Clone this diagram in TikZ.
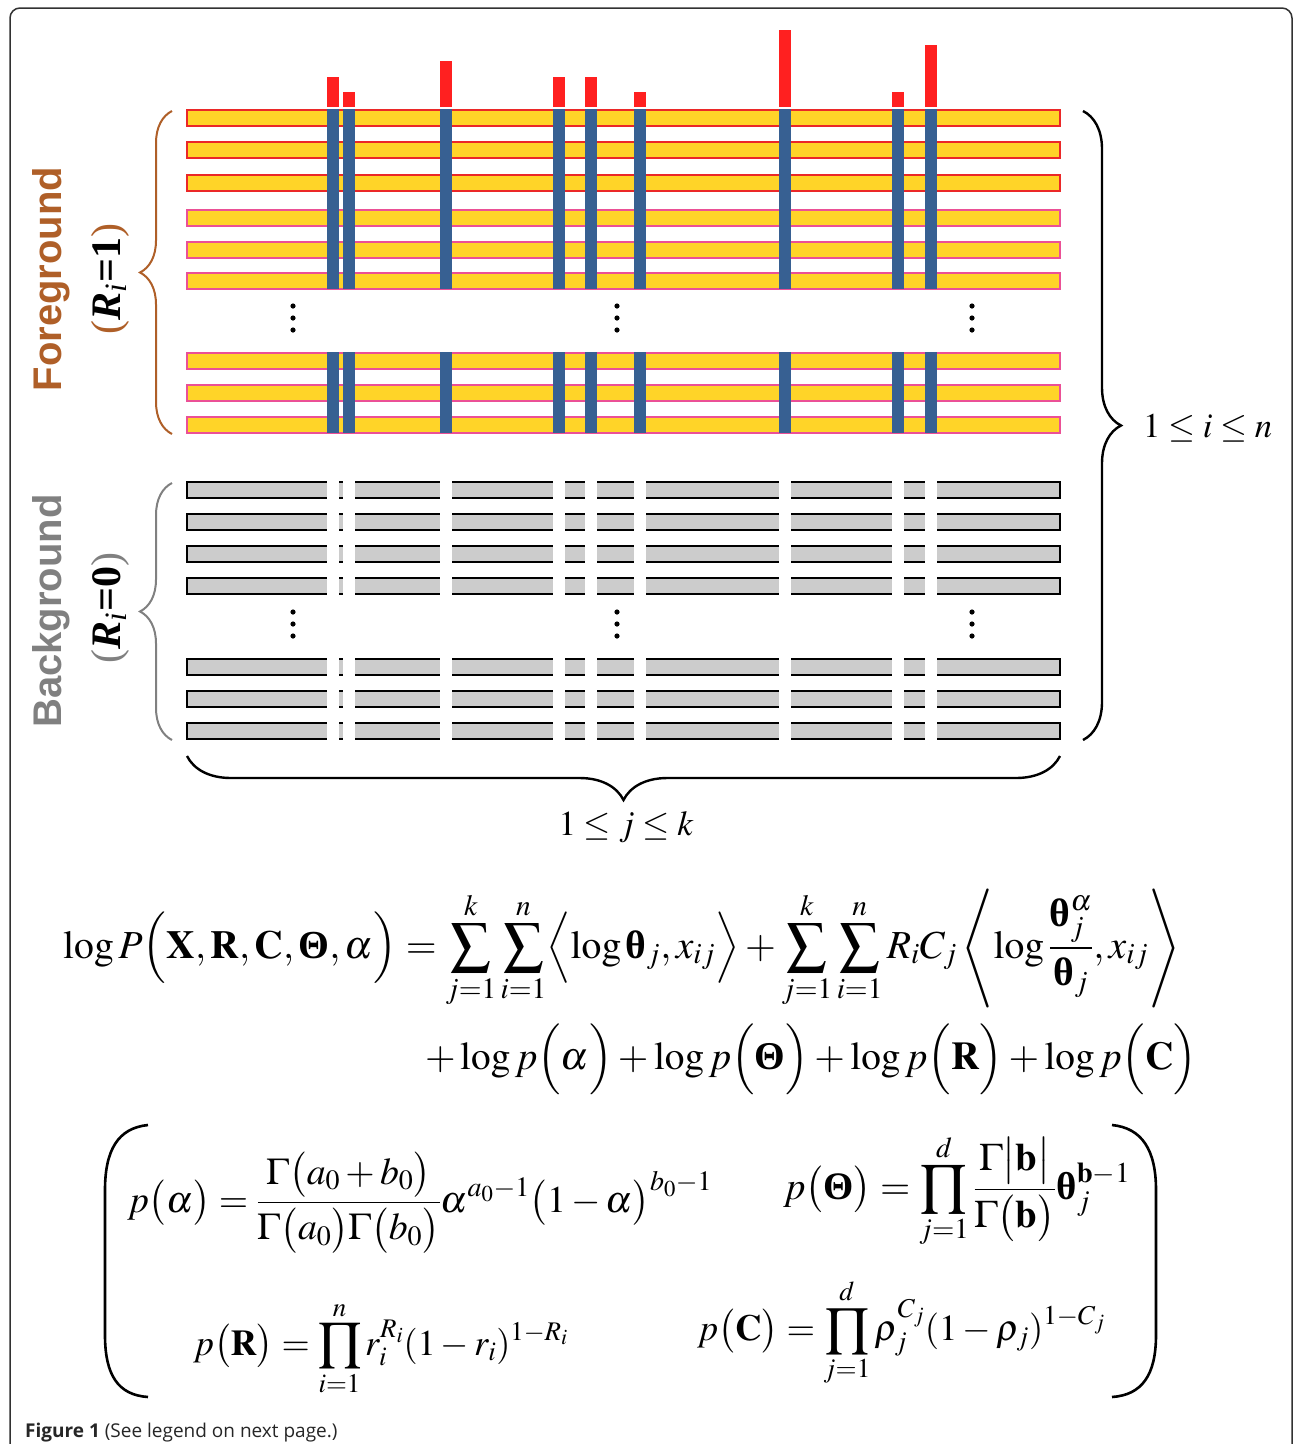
\documentclass[tikz,border=0pt]{standalone}
\usepackage{amsmath}
\usepackage{mathptmx}
\usepackage[no-math]{fontspec}
\setmainfont{Liberation Serif}
\newfontfamily\lsans{Liberation Sans}
\newfontfamily\capsans{Open Sans}
\usepackage{graphicx}
\usetikzlibrary{decorations.pathreplacing}
\newcommand{\bth}{\text{\normalfont\bfseries θ}}
\newcommand{\bTh}{\text{\normalfont\bfseries Θ}}
\definecolor{baryellow}{RGB}{255,212,40}
\definecolor{barred}{RGB}{235,40,40}
\definecolor{barpink}{RGB}{235,80,150}
\definecolor{colblue}{RGB}{55,96,146}
\definecolor{peakred}{RGB}{255,32,32}
\definecolor{bargray}{RGB}{204,204,204}
\definecolor{fgbrown}{RGB}{175,95,40}
\definecolor{bggray}{RGB}{128,128,128}
\definecolor{framegray}{RGB}{50,50,50}
\begin{document}
\begin{tikzpicture}[x=1pt,y=-1pt,
  fgbar/.style={fill=baryellow, line width=1.8pt},
  bgbar/.style={fill=bargray, draw=black, line width=2pt},
  bracestyle/.style={decorate, line width=2pt},
  eq/.style={anchor=base west, inner sep=0pt, font=\fontsize{40}{48}\selectfont},
  peq/.style={anchor=base west, inner sep=0pt, font=\fontsize{36}{44}\selectfont}]
\useasboundingbox (0,0) rectangle (1293,1444);
\fill[white] (0,0) rectangle (1293,1444);
\draw[line width=1.5pt, framegray, rounded corners=10pt] (10,1470) -- (10,8) -- (1292,8) -- (1292,1470);
% foreground bars
\foreach \t in {110,142,175} \draw[fgbar, draw=barred] (187,\t) rectangle (1060,\t+16);
\foreach \t in {210,242,273,353,385,417} \draw[fgbar, draw=barpink] (187,\t) rectangle (1060,\t+16);
\foreach \cx/\h in {327/77,343/92,440/61,553/77,585/77,634/92,779/30,892/92,925/45} {
  \fill[colblue] (\cx,109) rectangle (\cx+12,289);
  \fill[colblue] (\cx,352) rectangle (\cx+12,433);
  \fill[peakred] (\cx,\h) rectangle (\cx+12,107);
}
% background bars
\foreach \t in {482,514,546,578,659,691,723} \draw[bgbar] (187,\t) rectangle (1060,\t+16);
\foreach \cx in {327,343,440,553,585,634,779,892,925} \fill[white] (\cx,477) rectangle (\cx+12,745);
% dots
\foreach \dx in {293,617,972} {
  \foreach \dy in {306,318,330} \fill (\dx,\dy) circle (2.6pt);
  \foreach \dy in {612,624,636} \fill (\dx,\dy) circle (2.6pt);
}
% braces
\draw[bracestyle, fgbrown, decoration={brace, amplitude=32pt}] (172,434) -- (172,111);
\draw[bracestyle, bggray, decoration={brace, amplitude=32pt}] (172,740) -- (172,483);
\draw[bracestyle, black, line width=2.4pt, decoration={brace, amplitude=38pt}] (1083,111) -- (1083,740);
\draw[bracestyle, black, line width=2.4pt, decoration={brace, amplitude=44pt}] (1060,756) -- (187,756);
% side labels
\node[rotate=90, text=fgbrown, font=\lsans\bfseries\fontsize{40}{48}\selectfont] (fg) at (51,279) {Foreground};
\node[rotate=90, font=\fontsize{42}{50}\selectfont] (fgr) at (110,279) {{\color{fgbrown}(}\textbf{\textit{R}}\textsubscript{\textit{i}}\textbf{=1}{\color{fgbrown})}};
\node[rotate=90, text=bggray, font=\lsans\bfseries\fontsize{40}{48}\selectfont] (bg) at (51,611) {Background};
\node[rotate=90, font=\fontsize{42}{50}\selectfont] (bgr) at (110,608) {{\color{bggray}(}\textbf{\textit{R}}\textsubscript{\textit{i}}\textbf{=0}{\color{bggray})}};
\node[anchor=west, inner sep=0pt, font=\fontsize{40}{48}\selectfont] (ilab) at (1143,428) {\resizebox{129pt}{!}{$1\le i\le n$}};
\node[inner sep=0pt, font=\fontsize{40}{48}\selectfont] (jlab) at (626,827) {\resizebox{135pt}{!}{$1\le j\le k$}};
% main equation
\node[eq] (eq1) at (63,958) {\resizebox{1117pt}{!}{$\displaystyle \log P\Bigl(\mathbf{X},\mathbf{R},\mathbf{C},\bTh,\alpha\Bigr)=\sum_{j=1}^{k}\sum_{i=1}^{n}\Bigl\langle\log\bth_{j},x_{ij}\Bigr\rangle+\sum_{j=1}^{k}\sum_{i=1}^{n}R_{i}C_{j}\left\langle\log\frac{\bth_{j}^{\alpha}}{\bth_{j}},x_{ij}\right\rangle$}};
\node[eq] (eq2) at (425,1069) {\resizebox{772pt}{!}{$\displaystyle +\log p\Bigl(\alpha\Bigr)+\log p\Bigl(\bTh\Bigr)+\log p\Bigl(\mathbf{R}\Bigr)+\log p\Bigl(\mathbf{C}\Bigr)$}};
% priors
\draw[line width=2.6pt] (148,1125) .. controls (118,1128) and (105,1150) .. (105,1190) -- (105,1335) .. controls (105,1375) and (118,1395) .. (148,1397);
\draw[line width=2.6pt] (1112,1125) .. controls (1142,1128) and (1156,1150) .. (1156,1190) -- (1156,1335) .. controls (1156,1375) and (1142,1395) .. (1112,1397);
\node[peq] (pa) at (127,1212) {\resizebox{585pt}{!}{$\displaystyle p\bigl(\alpha\bigr)=\frac{\Gamma\bigl(a_{0}+b_{0}\bigr)}{\Gamma\bigl(a_{0}\bigr)\Gamma\bigl(b_{0}\bigr)}\alpha^{a_{0}-1}\bigl(1-\alpha\bigr)^{b_{0}-1}$}};
\node[peq] (pt) at (783,1199) {\resizebox{347pt}{!}{$\displaystyle p\bigl(\bTh\bigr)=\prod_{j=1}^{d}\frac{\Gamma\bigl|\mathbf{b}\bigr|}{\Gamma\bigl(\mathbf{b}\bigr)}\bth_{j}^{\mathbf{b}-1}$}};
\node[peq] (pr) at (193,1355) {\resizebox{375pt}{!}{$\displaystyle p\bigl(\mathbf{R}\bigr)=\prod_{i=1}^{n}r_{i}^{R_{i}}(1-r_{i})^{1-R_{i}}$}};
\node[peq] (pc) at (697,1340) {\resizebox{408pt}{!}{$\displaystyle p\bigl(\mathbf{C}\bigr)=\prod_{j=1}^{d}\rho_{j}^{C_{j}}(1-\rho_{j})^{1-C_{j}}$}};
% caption
\node[anchor=base west, inner sep=0pt, text=black!85, font=\capsans\fontsize{19}{23}\selectfont] (cap) at (25,1437) {\textbf{Figure 1} (See legend on next page.)};
\end{tikzpicture}
\end{document}
